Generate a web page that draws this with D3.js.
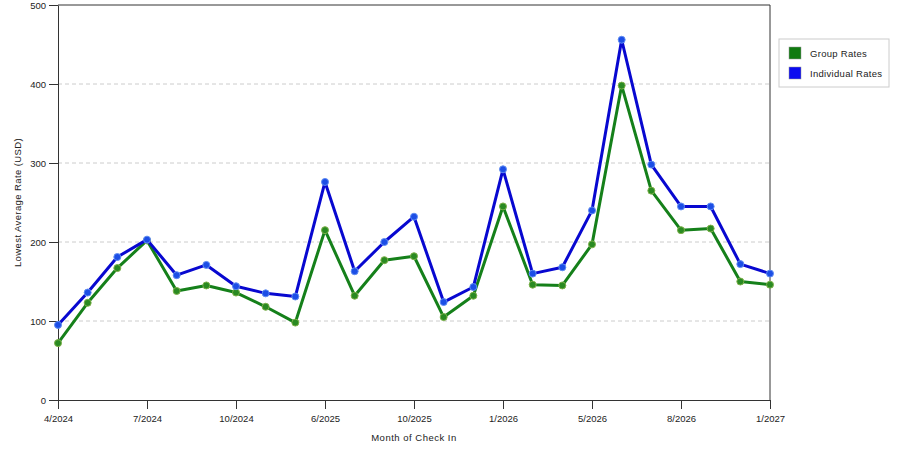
<!DOCTYPE html>
<html>
<head>
<meta charset="utf-8">
<script src="https://cdn.jsdelivr.net/npm/d3@7"></script>
<style>
  body { margin: 0; background: #fff; }
  text { font-family: "Liberation Sans", Arial, sans-serif; fill: #222; }
  .grid line { stroke: #ccc; stroke-dasharray: 4,3; }
  .axis path, .axis line { stroke: #333; }
</style>
</head>
<body>
<svg id="chart" width="900" height="450"></svg>
<script>
// months with data (categorical, evenly spaced)
const months = ['4/2024','5/2024','6/2024','7/2024','8/2024','9/2024','10/2024','11/2024','12/2024',
  '6/2025','7/2025','8/2025','10/2025','11/2025','12/2025','1/2026','2/2026','3/2026',
  '5/2026','6/2026','7/2026','8/2026','9/2026','12/2026','1/2027']
const tickMonths = ['4/2024','7/2024','10/2024','6/2025','10/2025','1/2026','5/2026','8/2026','1/2027']
const groupRates = [72,123,167,202,138,145,136,118,98,215,132,177,182,105,132,245,146,145,197,398,265,215,217,150,146]
const individualRates = [95,136,181,203,158,171,144,135,131,276,163,200,232,124,143,292,160,168,240,456,298,245,245,172,160]
const yTicks = [0,100,200,300,400,500]

const margin = {top: 5, right: 130, bottom: 50, left: 58}
const width = 900 - margin.left - margin.right
const height = 450 - margin.top - margin.bottom

const svg = d3.select('#chart')
const g = svg.append('g').attr('transform', 'translate(' + margin.left + ',' + margin.top + ')')

const x = d3.scalePoint().domain(months).range([0, width])
const y = d3.scaleLinear().domain([0, 500]).range([height, 0])

// gridlines
g.append('g')
    .attr('class', 'grid')
    .selectAll('line')
    .data(yTicks.filter(d => d > 0 && d < 500))
    .enter()
    .append('line')
    .attr('x1', 0).attr('x2', width)
    .attr('y1', d => y(d)).attr('y2', d => y(d))

// frame (top + right)
g.append('path')
    .attr('d', 'M0,0H' + width + 'V' + height)
    .attr('fill', 'none')
    .attr('stroke', '#333')

const yAxis = g.append('g')
    .attr('class', 'axis')
    .call(d3.axisLeft(y).tickValues(yTicks).tickSize(9).tickPadding(3).tickSizeOuter(0))
yAxis.selectAll('text').style('font-size', '9.5px')

const xAxis = g.append('g')
    .attr('class', 'axis')
    .attr('transform', 'translate(0,' + height + ')')
    .call(d3.axisBottom(x).tickValues(tickMonths).tickSize(9).tickPadding(6).tickSizeOuter(0))
xAxis.selectAll('text').style('font-size', '9.5px')

// axis titles
svg.append('text')
    .attr('transform', 'translate(21,' + (margin.top + height / 2) + ') rotate(-90)')
    .attr('text-anchor', 'middle')
    .style('font-size', '9.5px')
    .style('letter-spacing', '0.4px')
    .text('Lowest Average Rate (USD)')

svg.append('text')
    .attr('x', margin.left + width / 2)
    .attr('y', 441)
    .attr('text-anchor', 'middle')
    .style('font-size', '9.5px')
    .style('letter-spacing', '0.5px')
    .text('Month of Check In')

const series = [
    {name: 'Group Rates', values: groupRates, line: '#15801a', dot: '#2a8a22', edge: '#7cb048', swatch: '#0f7a0f'},
    {name: 'Individual Rates', values: individualRates, line: '#0808d0', dot: '#1c4ee6', edge: '#5f8cf2', swatch: '#0a0af0'}
]

const line = d3.line()
    .x((d, i) => x(months[i]))
    .y(d => y(d))

series.forEach(s => {
    g.append('path')
        .datum(s.values)
        .attr('d', line)
        .attr('fill', 'none')
        .attr('stroke', s.line)
        .attr('stroke-width', 3)
        .attr('stroke-linejoin', 'round')

    g.append('g')
        .selectAll('circle')
        .data(s.values)
        .enter()
        .append('circle')
        .attr('cx', (d, i) => x(months[i]))
        .attr('cy', d => y(d))
        .attr('r', 3.5)
        .attr('fill', s.dot)
        .attr('stroke', s.edge)
        .attr('stroke-width', 1)
})

// legend
const legend = svg.append('g').attr('transform', 'translate(779,39)')
legend.append('rect')
    .attr('width', 110).attr('height', 48)
    .attr('fill', '#fff')
    .attr('stroke', '#ccc')

const item = legend.selectAll('.item')
    .data(series)
    .enter()
    .append('g')
    .attr('transform', (d, i) => 'translate(10,' + (8 + i * 20) + ')')
item.append('rect')
    .attr('width', 12).attr('height', 12)
    .attr('fill', d => d.swatch)
    .attr('stroke', '#999').attr('stroke-width', 0.5)
item.append('text')
    .attr('x', 21).attr('y', 10)
    .style('font-size', '9.5px')
    .style('letter-spacing', '0.3px')
    .text(d => d.name)
</script>
</body>
</html>
